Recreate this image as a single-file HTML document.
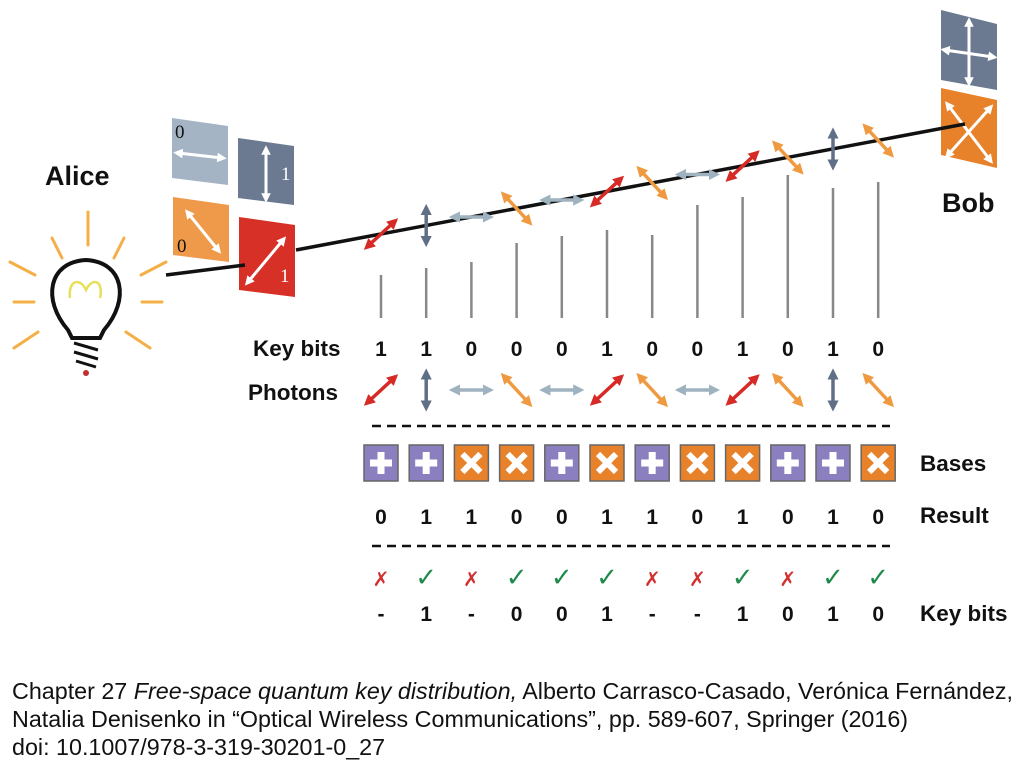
<!DOCTYPE html>
<html><head><meta charset="utf-8"><style>
body{margin:0;background:#fff}
svg{display:block;font-family:"Liberation Sans",sans-serif}
.t{font-weight:bold;font-size:21px;fill:#111}
.c{font-size:23.3px;fill:#111}
</style></head><body>
<svg id="s" width="1023" height="779" viewBox="0 0 1023 779" xmlns="http://www.w3.org/2000/svg">
<defs>
<marker id="ah" viewBox="0 0 10 10" refX="5" refY="5" markerWidth="3.2" markerHeight="3.2" orient="auto-start-reverse"><path d="M0,0L10,5L0,10z" fill="context-stroke"/></marker>
</defs>
<g>
<g stroke="#f4b046" stroke-width="3" stroke-linecap="round">
<line x1="88" y1="212" x2="88" y2="245"/><line x1="52" y1="238" x2="62" y2="258"/><line x1="124" y1="238" x2="114" y2="258"/>
<line x1="10" y1="262" x2="35" y2="275"/><line x1="166" y1="262" x2="141" y2="275"/>
<line x1="14" y1="302" x2="34" y2="302"/><line x1="162" y1="302" x2="142" y2="302"/>
<line x1="14" y1="348" x2="38" y2="332"/><line x1="150" y1="348" x2="126" y2="332"/>
</g>
<path d="M68,330 C42,300 48,262 86,260 C124,262 130,300 104,330 L100,338 L72,338 Z" fill="none" stroke="#111" stroke-width="4"/>
<path d="M70,298 C68,280 80,277 86,290 C92,277 104,280 100,298" fill="none" stroke="#e8e05a" stroke-width="2.5"/>
<path d="M74,343 L98,350 M74,352 L98,359 M76,361 L96,367" stroke="#111" stroke-width="3"/>
<circle cx="86" cy="373" r="3" fill="#c03030"/>
</g>
<text class="t" x="45" y="185" style="font-size:27px">Alice</text>
<g>
<polygon points="172,118 228,126 228,185 172,178" fill="#a5b4c4"/>
<polygon points="238,138 294,146 294,205 238,198" fill="#6b7a90"/>
<polygon points="173,197 229,205 229,262 173,255" fill="#ef9a4a"/>
<polygon points="239,217 295,225 295,297 239,290" fill="#d73027"/>
<g stroke="#fff" stroke-width="3" marker-start="url(#ah)" marker-end="url(#ah)">
<line x1="178" y1="153" x2="222" y2="158"/><line x1="266" y1="150" x2="266" y2="198"/>
<line x1="188" y1="213" x2="218" y2="250"/><line x1="248" y1="282" x2="283" y2="240"/>
</g>
<g font-family="Liberation Serif" font-size="19"><text x="175" y="138" fill="#111">0</text><text x="281" y="180" fill="#fff">1</text><text x="177" y="252" fill="#111">0</text><text x="280" y="282" fill="#fff">1</text></g>
</g>
<g>
<polygon points="941,10 997,24 997,90 941,80" fill="#6b7a90"/>
<polygon points="941,88 997,100 997,168 941,155" fill="#e8822a"/>
<g stroke="#fff" stroke-width="3" marker-start="url(#ah)" marker-end="url(#ah)">
<line x1="969" y1="22" x2="969" y2="82"/><line x1="945" y1="50" x2="993" y2="57"/>
<line x1="948" y1="105" x2="990" y2="160"/><line x1="948" y1="155" x2="990" y2="108"/>
</g>
</g>
<text class="t" x="942" y="212" style="font-size:27px">Bob</text>
<g stroke="#111" stroke-width="3.5">
<line x1="166" y1="275" x2="245" y2="265"/><line x1="296" y1="250" x2="965" y2="124"/>
</g>
<g id="vl" stroke="#888" stroke-width="2.5"></g>
<g id="bp"></g>
<text class="t" x="253" y="356" style="font-size:22.5px">Key bits</text>
<text class="t" x="248" y="400" style="font-size:22.5px">Photons</text>
<text class="t" x="920" y="471" style="font-size:22.5px">Bases</text>
<text class="t" x="920" y="523" style="font-size:22.5px">Result</text>
<text class="t" x="920" y="621" style="font-size:22.5px">Key bits</text>
<line x1="372" y1="426" x2="890" y2="426" stroke="#111" stroke-width="2.5" stroke-dasharray="9,6"/>
<line x1="372" y1="546" x2="890" y2="546" stroke="#111" stroke-width="2.5" stroke-dasharray="9,6"/>
<g id="rows"></g>
<text class="c" x="12" y="699">Chapter 27 <tspan font-style="italic">Free-space quantum key distribution,</tspan> Alberto Carrasco-Casado, Verónica Fernández,</text>
<text class="c" x="12" y="727">Natalia Denisenko in  “Optical Wireless Communications”, pp. 589-607, Springer (2016)</text>
<text class="c" x="12" y="755">doi: 10.1007/978-3-319-30201-0_27</text>
</svg>
<script>
const keyBits=[1,1,0,0,0,1,0,0,1,0,1,0];
const sendBasis=['x','+','+','x','+','x','x','+','x','x','+','x'];
const bases=['+','+','x','x','+','x','+','x','x','+','+','x'];
const results=[0,1,1,0,0,1,1,0,1,0,1,0];
const matches=[0,1,0,1,1,1,0,0,1,0,1,1];
const finalKey=['-','1','-','0','0','1','-','-','1','0','1','0'];
const lineTops=[275,268,262,243,236,230,235,205,197,175,188,182];
const NS='http://www.w3.org/2000/svg';
const colX=i=>381+i*45.2;
const beamY=x=>250-0.188*(x-296);
function mk(tag,attrs,parent){const e=document.createElementNS(NS,tag);for(const k in attrs)e.setAttribute(k,attrs[k]);parent.appendChild(e);return e;}
function photon(i,cx,cy,parent){
  const b=sendBasis[i],v=keyBits[i];let col,dx,dy;
  if(b==='+'){if(v){col='#5f6f86';dx=0;dy=16;}else{col='#9fb2c0';dx=17;dy=0;}}
  else{if(v){col='#d62a26';dx=13;dy=-12;}else{col='#ef9a40';dx=-12;dy=-13;}}
  return mk('line',{x1:cx-dx,y1:cy-dy,x2:cx+dx,y2:cy+dy,stroke:col,'stroke-width':3.5,'marker-start':'url(#ah)','marker-end':'url(#ah)'},parent);
}
const vl=document.getElementById('vl'),bp=document.getElementById('bp'),rows=document.getElementById('rows');
keyBits.forEach((k,i)=>{
  const x=colX(i);
  const v=mk('line',{x1:x,y1:lineTops[i],x2:x,y2:318},vl);
  
  
  const p=photon(i,x,beamY(x),bp);
  
  
  const t=mk('text',{x:x,y:356,'text-anchor':'middle',class:'t'},rows);t.textContent=k;
  
  
  const q=photon(i,x,390,rows);
  
  
  const g=mk('g',{},rows);
  
  
  const plus=bases[i]==='+';
  mk('rect',{x:x-17,y:445,width:34,height:36,fill:plus?'#8b7fc0':'#e8822a',stroke:'#666','stroke-width':1.5},g);
  if(plus){mk('path',{d:`M${x-11},463H${x+11}M${x},452V474`,stroke:'#fff','stroke-width':7},g);}
  else{mk('path',{d:`M${x-9},454L${x+9},472M${x+9},454L${x-9},472`,stroke:'#fff','stroke-width':6},g);}
  const r=mk('text',{x:x,y:524,'text-anchor':'middle',class:'t'},rows);r.textContent=results[i];
  
  
  const ok=matches[i]===1;
  const m=mk('text',{x:x,y:586,'text-anchor':'middle','font-size':ok?26:20,'font-weight':'bold',fill:ok?'#1f8a4c':'#d03030','font-family':'DejaVu Sans'},rows);m.textContent=ok?'✓':'✗';
  
  
  const f=mk('text',{x:x,y:621,'text-anchor':'middle',class:'t'},rows);f.textContent=finalKey[i];
  
  
});
</script>
</body></html>
